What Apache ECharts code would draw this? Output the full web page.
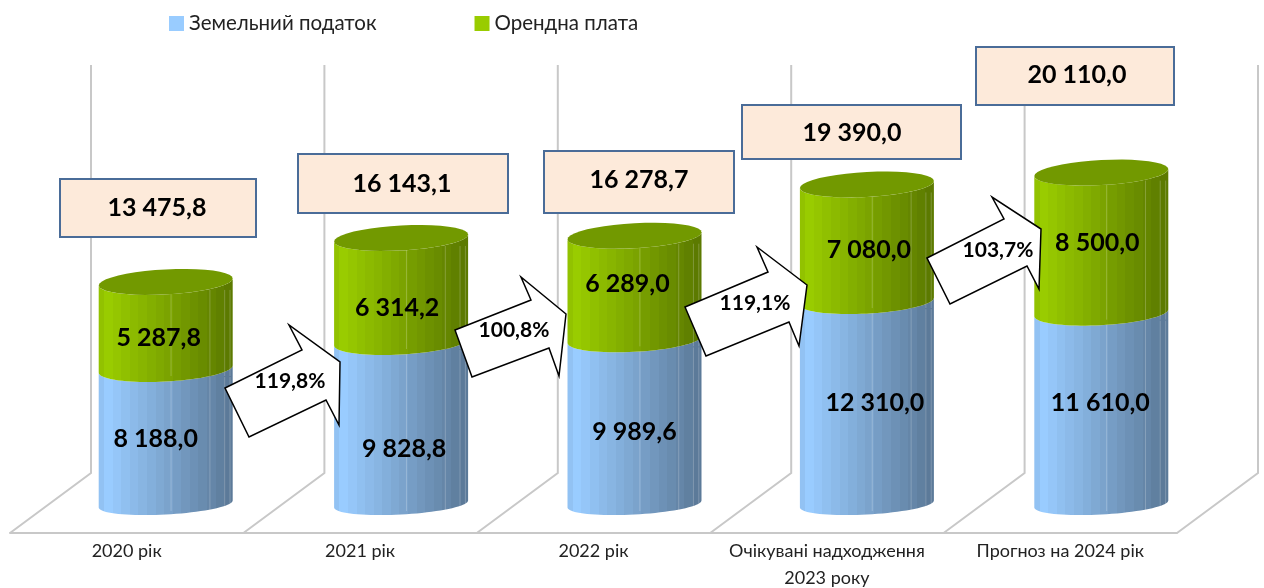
<!DOCTYPE html>
<html>
<head>
<meta charset="utf-8">
<style>
  html, body { margin: 0; padding: 0; background: #fff; }
  #chart { width: 1264px; height: 588px; }
</style>
<script src="https://cdn.jsdelivr.net/npm/echarts@6/dist/echarts.min.js"></script>
</head>
<body>
<div id="chart"></div>
<script>
const categories = ['2020 рік', '2021 рік', '2022 рік', 'Очікувані надходження\n2023 року', 'Прогноз на 2024 рік']
const landTax = [8188.0, 9828.8, 9989.6, 12310.0, 11610.0]
const rent = [5287.8, 6314.2, 6289.0, 7080.0, 8500.0]
const totals = [13475.8, 16143.1, 16278.7, 19390.0, 20110.0]
const growth = ['119,8%', '100,8%', '119,1%', '103,7%']

// layout of the hand placed shapes on the slide
const FONT = 'Lato, "Open Sans", sans-serif'
const DEPTH_X = 81
const DEPTH_Y = 60
const WALL_TOP_VALUE = 24750
const RX = 67
const RY = 12.5
const RY_FLOOR = 10.5
const TILT = 3.5
const cylinderNudge = [0, 2, 2, 1, 2]
const landLabelShift = [[-10, 2], [3, 26], [0, 10], [8, 0], [-1, -5]]
const rentLabelShift = [[-7, 12], [-4, 18], [-7, -4], [2, 7], [-4, 0]]
const totalBoxes = [[60, 179, 196, 58], [298, 154, 210, 59], [544, 151, 190, 62], [742, 105, 219, 54], [976, 47, 198, 58]]
const totalText = [[157, 208], [402, 184], [639, 180], [852, 133], [1077, 75]]
const arrows = [
  [[225, 388], [302, 350], [289, 325], [340, 362], [339, 425], [326, 400], [249, 437]],
  [[455, 330], [531, 300], [521, 277], [566, 314], [559, 376], [549, 348], [472, 377]],
  [[685, 307], [768, 272], [757, 247], [807, 285], [799, 346], [789, 322], [706, 356]],
  [[927, 258], [1004, 219], [992, 197], [1041, 229], [1039, 289], [1027, 266], [950, 304]]
]
const arrowText = [[290, 381], [514, 330], [755, 303], [998, 250]]

function fmt (v) {
  return v.toFixed(1).replace('.', ',').replace(/\B(?=(\d{3})+(?!\d))(?=.*,)/g, ' ')
}

function mix (a, b, t) {
  return 'rgb(' + a.map((c, i) => Math.round(c + (b[i] - c) * t)).join(',') + ')'
}

// stepped gradient, the original is a faceted cylinder
function facets (light, dark) {
  const stops = [{ offset: 0, color: mix(light, dark, 0.12) }, { offset: 0.04, color: mix(light, dark, 0.12) }]
  const n = 15
  for (let i = 0; i < n; i++) {
    const t = i / (n - 1)
    const color = mix(light, dark, t)
    stops.push({ offset: 0.04 + 0.96 * i / n, color: color })
    stops.push({ offset: 0.04 + 0.96 * (i + 1) / n, color: color })
  }
  return { type: 'linear', x: 0, y: 0, x2: 1, y2: 0, colorStops: stops }
}

function arc (cx, cy, ry, from, to) {
  const pts = []
  for (let i = 0; i <= 40; i++) {
    const a = from + (to - from) * i / 40
    pts.push([cx + RX * Math.cos(a), cy + ry * Math.sin(a) - TILT * Math.cos(a)])
  }
  return pts
}

function makeCylinder (light, dark, shifts, values, cap) {
  return function (params, api) {
    const i = api.value(0)
    const base = api.coord([i, api.value(1)])
    const top = api.coord([i, api.value(2)])
    const cx = base[0] + DEPTH_X / 2 - 1.5 + cylinderNudge[i]
    const y0 = base[1] - DEPTH_Y / 2 + 1
    const y1 = top[1] - DEPTH_Y / 2 + 1
    const ry0 = api.value(1) === 0 ? RY_FLOOR : RY
    const side = arc(cx, y0, ry0, 0, Math.PI).concat(arc(cx, y1, RY, Math.PI, 0))
    const children = [{
      type: 'polygon',
      shape: { points: side },
      style: { fill: facets(light, dark) }
    }]
    // thin light seams between the facets
    ;[0.54, 0.83, 0.94, 0.98].forEach(function (f) {
      const x = cx - RX + 2 * RX * f
      children.push({
        type: 'line',
        shape: { x1: x, y1: y1 + 8, x2: x, y2: y0 + 7 },
        style: { stroke: 'rgba(255,255,255,0.22)', lineWidth: 1 }
      })
    })
    if (cap) {
      children.push({
        type: 'polygon',
        shape: { points: arc(cx, y1, RY, 0, Math.PI * 2) },
        style: { fill: cap }
      })
    }
    children.push({
      type: 'text',
      z2: 20,
      style: {
        text: fmt(values[i]),
        x: cx + shifts[i][0],
        y: (y0 + y1) / 2 + shifts[i][1],
        align: 'center',
        verticalAlign: 'middle',
        fontFamily: FONT,
        fontWeight: 'bold',
        fontSize: 25,
        fill: '#000'
      }
    })
    return { type: 'group', children: children }
  }
}

function renderWall (params, api) {
  const i = api.value(0)
  const band = api.size([1, 0])[0]
  const floor = api.coord([i, 0])
  const wallH = floor[1] - api.coord([i, WALL_TOP_VALUE])[1]
  const style = { stroke: '#C8C8C8', lineWidth: 2, fill: 'none' }
  const children = []
  const xs = i === categories.length - 1 ? [floor[0] - band / 2, floor[0] + band / 2] : [floor[0] - band / 2]
  xs.forEach(function (x) {
    children.push({
      type: 'polyline',
      shape: { points: [[x, floor[1]], [x + DEPTH_X, floor[1] - DEPTH_Y], [x + DEPTH_X, floor[1] - DEPTH_Y - wallH]] },
      style: style
    })
  })
  return { type: 'group', children: children }
}

const graphics = []
totalBoxes.forEach(function (b, i) {
  graphics.push({
    type: 'rect',
    z: 100,
    shape: { x: b[0], y: b[1], width: b[2], height: b[3] },
    style: { fill: '#FDEADA', stroke: '#4A6C98', lineWidth: 2 }
  })
  graphics.push({
    type: 'text',
    z: 101,
    x: totalText[i][0],
    y: totalText[i][1],
    style: {
      text: fmt(totals[i]),
      align: 'center',
      verticalAlign: 'middle',
      fontFamily: FONT,
      fontWeight: 'bold',
      fontSize: 25,
      fill: '#000'
    }
  })
})
arrows.forEach(function (pts, i) {
  graphics.push({
    type: 'polygon',
    z: 100,
    shape: { points: pts },
    style: { fill: '#fff', stroke: '#000', lineWidth: 1.5 }
  })
  graphics.push({
    type: 'text',
    z: 101,
    x: arrowText[i][0],
    y: arrowText[i][1],
    style: {
      text: growth[i],
      align: 'center',
      verticalAlign: 'middle',
      fontFamily: FONT,
      fontWeight: 'bold',
      fontSize: 21,
      fill: '#000'
    }
  })
})

const chart = echarts.init(document.getElementById('chart'))
chart.setOption({
  animation: false,
  legend: {
    left: 164,
    top: 8,
    itemWidth: 15,
    itemHeight: 15,
    itemGap: 98,
    icon: 'rect',
    data: ['Земельний податок', 'Орендна плата'],
    textStyle: { fontFamily: FONT, fontSize: 20.5, color: '#222' }
  },
  grid: { left: 10, width: 1167, top: 121, height: 412, outerBoundsMode: 'none' },
  xAxis: {
    type: 'category',
    data: categories,
    axisLine: { lineStyle: { color: '#C8C8C8', width: 2 } },
    axisTick: { show: false },
    axisLabel: {
      interval: 0,
      margin: 5,
      lineHeight: 27,
      fontFamily: FONT,
      fontSize: 18,
      color: '#222'
    }
  },
  yAxis: { type: 'value', min: 0, max: 25000, show: false },
  graphic: graphics,
  series: [
    {
      type: 'custom',
      name: 'wall',
      silent: true,
      z: 1,
      renderItem: renderWall,
      encode: { x: 0, y: 1 },
      data: categories.map((c, i) => [i, 0])
    },
    {
      type: 'custom',
      name: 'Земельний податок',
      silent: true,
      z: 3,
      itemStyle: { color: '#99CCFF' },
      renderItem: makeCylinder([153, 204, 255], [92, 122, 153], landLabelShift, landTax, null),
      encode: { x: 0, y: [1, 2] },
      data: landTax.map((v, i) => [i, 0, v])
    },
    {
      type: 'custom',
      name: 'Орендна плата',
      silent: true,
      z: 4,
      itemStyle: { color: '#99CC00' },
      renderItem: makeCylinder([153, 204, 0], [92, 122, 0], rentLabelShift, rent, '#729900'),
      encode: { x: 0, y: [1, 2] },
      data: rent.map((v, i) => [i, landTax[i], landTax[i] + v])
    }
  ]
})
</script>
</body>
</html>
